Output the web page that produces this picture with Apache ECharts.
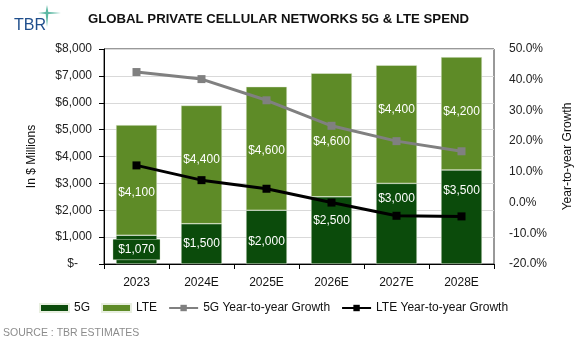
<!DOCTYPE html>
<html lang="en">
<head>
    <meta charset="UTF-8">
    <title>Global Private Cellular Networks</title>
    <script src="https://cdn.jsdelivr.net/npm/echarts@6/dist/echarts.min.js"></script>
    <style>
        html, body { margin: 0; padding: 0; background: #fff; }
        #box { width: 582px; height: 350px; }
    </style>
</head>
<body>
<div id="box"></div>
<script>
    var years = ['2023', '2024E', '2025E', '2026E', '2027E', '2028E'];
    var spend5G = [1070, 1500, 2000, 2500, 3000, 3500];
    var spendLTE = [4100, 4400, 4600, 4600, 4400, 4200];
    var growth5G = [42.5, 40.2, 33.3, 25.0, 20.0, 16.7];
    var growthLTE = [12.1, 7.3, 4.5, 0.0, -4.3, -4.5];

    var font = "'Liberation Sans', Arial, sans-serif";
    var darkGreen = '#0b4b0b';
    var lightGreen = '#5e8b27';

    var myChart = echarts.init(document.getElementById('box'));

    function money(v) {
        if (v === 0) return '{z|$-}';
        return '$' + v.toLocaleString('en-US');
    }

    // labels were nudged by hand in the original so they don't sit on the lines
    var nudge5G = [0, 0, 5, -10, -25, -26];
    var nudgeLTE = [13, -5, 2, 7, -15, -2];

    var data5G = spend5G.map(function (v, i) {
        var item = { value: v, label: { offset: [0, nudge5G[i]] } };
        if (i === 0) {
            // first bar is too short for its label -> dark box like the original
            item.label.backgroundColor = darkGreen;
            item.label.padding = [4, 5];
            item.label.borderColor = '#dfe8d5';
            item.label.borderWidth = 0.5;
        }
        return item;
    });
    var dataLTE = spendLTE.map(function (v, i) {
        return { value: v, label: { offset: [0, nudgeLTE[i]] } };
    });

    var option = {
        animation: false,
        textStyle: { fontFamily: font },
        title: {
            text: 'GLOBAL PRIVATE CELLULAR NETWORKS 5G & LTE SPEND',
            left: 83,
            top: 8,
            textStyle: { fontFamily: font, fontSize: 13.2, fontWeight: 'bold', color: '#111' }
        },
        graphic: [
            {
                type: 'text', left: 14, top: 18,
                style: { text: 'TBR', fontFamily: font, fontSize: 16, fill: '#1f4e8c' }
            },
            {
                // logo star
                type: 'polygon',
                shape: { points: [[47, 5], [48.3, 12], [61, 13], [48.3, 14], [47, 27], [45.7, 14], [38, 13], [45.7, 12]] },
                style: { fill: '#5cb8a3' }
            },
            {
                type: 'text', left: 3, top: 328,
                style: { text: 'SOURCE : TBR ESTIMATES', fontFamily: font, fontSize: 10.5, fill: '#8c8c8c' }
            }
        ],
        legend: {
            bottom: 31,
            left: 34,
            itemGap: 11,
            itemWidth: 29,
            itemHeight: 8,
            textStyle: { fontFamily: font, fontSize: 12, color: '#111' },
            data: [
                { name: '5G', icon: 'rect' },
                { name: 'LTE', icon: 'rect' },
                { name: '5G Year-to-year Growth' },
                { name: 'LTE Year-to-year Growth' }
            ]
        },
        grid: { left: 104, right: 87, top: 49, bottom: 86, show: true, borderColor: '#333', borderWidth: 1 },
        xAxis: {
            type: 'category',
            data: years,
            axisLine: { lineStyle: { color: '#000' } },
            axisTick: { show: true, length: 5, lineStyle: { color: '#000' } },
            axisLabel: { fontFamily: font, fontSize: 12, color: '#111', margin: 13 }
        },
        yAxis: [
            {
                type: 'value',
                min: 0, max: 8000, interval: 1000,
                name: 'In $ Millions',
                nameLocation: 'middle',
                nameGap: 66,
                nameTextStyle: { fontFamily: font, fontSize: 12, color: '#111' },
                axisLine: { show: true, lineStyle: { color: '#000' } },
                axisTick: { show: true, length: 5, lineStyle: { color: '#000' } },
                splitLine: { lineStyle: { color: '#d9d9d9' } },
                axisLabel: {
                    fontFamily: font, fontSize: 12, color: '#222', margin: 12,
                    formatter: money,
                    rich: { z: { fontFamily: font, fontSize: 12, color: '#222', padding: [0, 14, 0, 0] } }
                }
            },
            {
                type: 'value',
                min: -20, max: 50, interval: 10,
                name: 'Year-to-year Growth',
                nameLocation: 'middle',
                nameGap: 68,
                nameRotate: 90,
                nameTextStyle: { fontFamily: font, fontSize: 12, color: '#111' },
                axisLine: { show: false },
                axisTick: { show: false },
                splitLine: { show: false },
                axisLabel: {
                    fontFamily: font, fontSize: 12, color: '#222', margin: 15,
                    formatter: function (v) { return v.toFixed(1) + '%'; }
                }
            }
        ],
        series: [
            {
                name: '5G',
                type: 'bar',
                stack: 'spend',
                barWidth: 41,
                data: data5G,
                itemStyle: { color: darkGreen, borderColor: '#e8efe0', borderWidth: 0.5 },
                label: {
                    show: true, position: 'inside', formatter: function (p) { return money(p.value); },
                    fontFamily: font, fontSize: 12, color: '#fff'
                }
            },
            {
                name: 'LTE',
                type: 'bar',
                stack: 'spend',
                data: dataLTE,
                itemStyle: { color: lightGreen, borderColor: '#e8efe0', borderWidth: 0.5 },
                label: {
                    show: true, position: 'inside', formatter: function (p) { return money(p.value); },
                    fontFamily: font, fontSize: 12, color: '#fff'
                }
            },
            {
                name: '5G Year-to-year Growth',
                type: 'line',
                yAxisIndex: 1,
                data: growth5G,
                symbol: 'rect',
                symbolSize: 8,
                lineStyle: { color: '#808080', width: 3 },
                itemStyle: { color: '#808080' }
            },
            {
                name: 'LTE Year-to-year Growth',
                type: 'line',
                yAxisIndex: 1,
                data: growthLTE,
                symbol: 'rect',
                symbolSize: 8,
                lineStyle: { color: '#000', width: 3 },
                itemStyle: { color: '#000' }
            }
        ]
    };
    myChart.setOption(option);
</script>
</body>
</html>
